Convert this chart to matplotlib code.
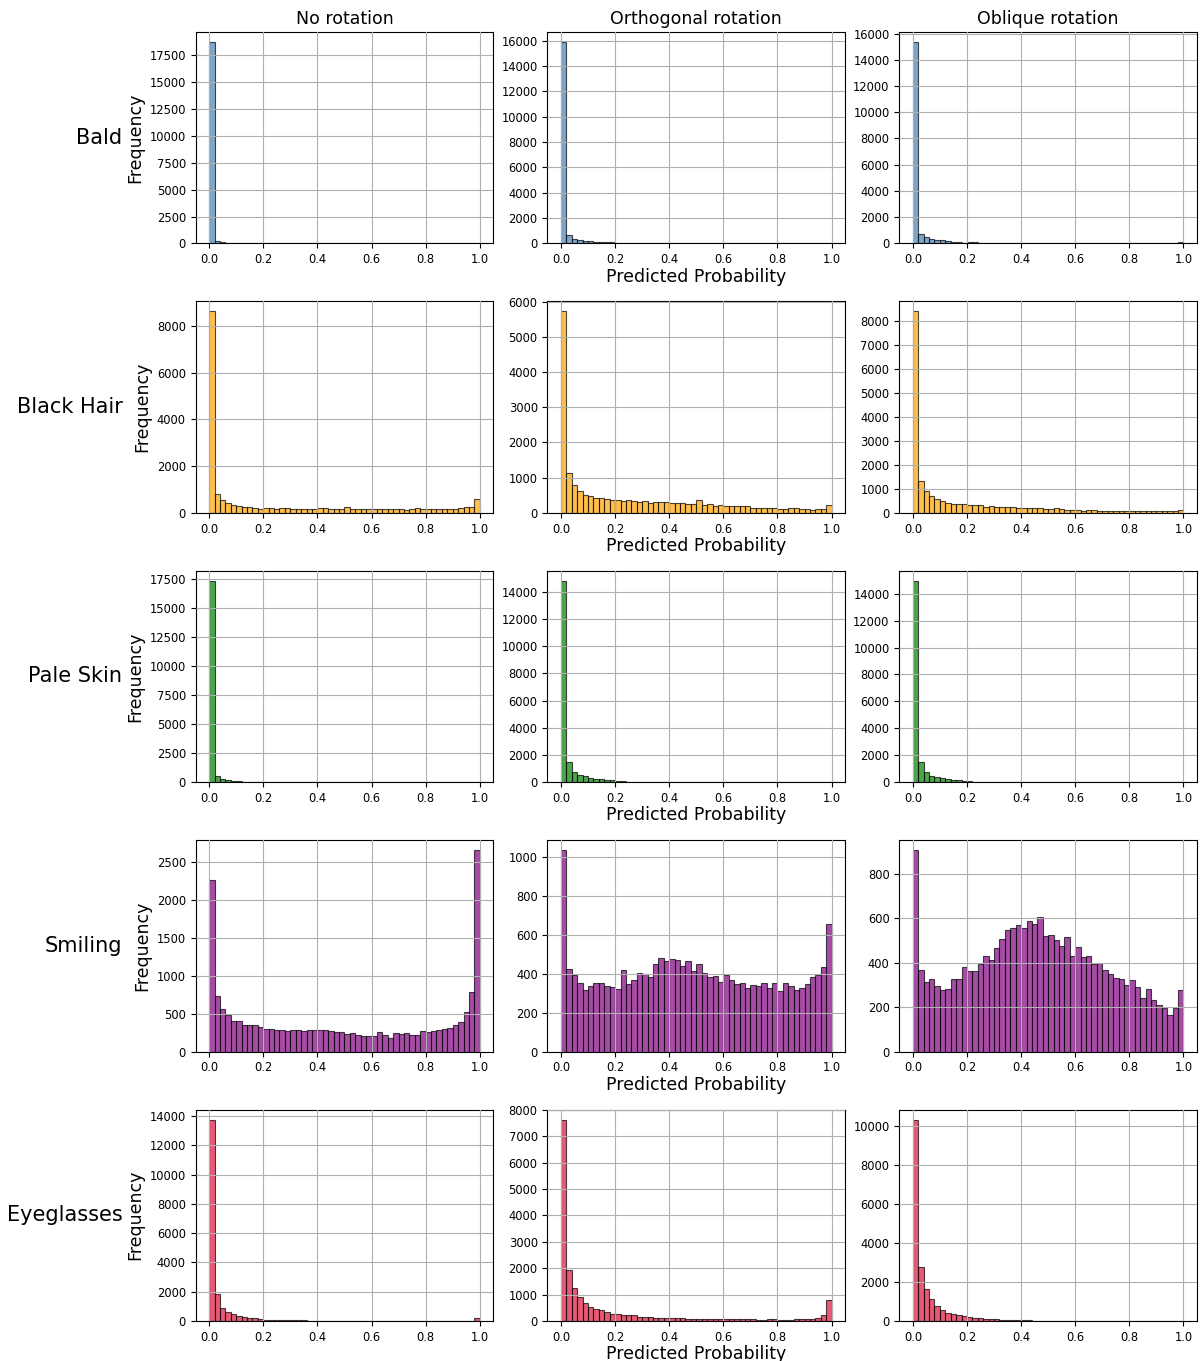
import matplotlib
matplotlib.use("Agg")
import matplotlib.pyplot as plt
from matplotlib.ticker import MultipleLocator
import numpy as np

# 50 bins over [0, 1], counts
bin_edges = np.linspace(0.0, 1.0, 51)

attributes = ["Bald", "Black Hair", "Pale Skin", "Smiling", "Eyeglasses"]
methods = ["No rotation", "Orthogonal rotation", "Oblique rotation"]
colors = ["steelblue", "orange", "green", "purple", "crimson"]

# y tick spacing used in each panel (row = attribute, col = method)
ytick_steps = [
    [2500, 2000, 2000],
    [2000, 1000, 1000],
    [2500, 2000, 2000],
    [500, 200, 200],
    [2000, 1000, 2000],
]

bald_none = [18700, 200, 100, 50, 40, 30, 30, 30, 30, 20, 20, 0, 0, 0, 0, 0, 0, 0, 0, 0,
             0, 0, 0, 0, 0, 0, 0, 0, 0, 0, 0, 0, 0, 0, 0, 0, 0, 0, 0, 0,
             0, 0, 0, 0, 0, 0, 0, 0, 0, 0]
bald_orth = [15900, 680, 380, 270, 190, 170, 130, 110, 90, 80, 60, 40, 20, 20, 20, 15, 15, 15, 15, 10,
             10, 10, 10, 10, 10, 10, 10, 10, 10, 10, 10, 10, 10, 10, 10, 5, 5, 10, 5, 5,
             10, 5, 5, 5, 5, 5, 5, 5, 5, 10]
bald_obl = [15350, 700, 480, 310, 250, 230, 170, 120, 100, 50, 90, 80, 40, 40, 70, 30, 20, 20, 20, 20,
            20, 20, 15, 15, 15, 15, 10, 10, 10, 10, 10, 10, 10, 10, 10, 10, 10, 10, 10, 10,
            10, 5, 10, 5, 5, 5, 5, 10, 10, 80]

hair_none = [8630, 790, 540, 420, 340, 290, 270, 260, 200, 170, 200, 200, 170, 200, 200, 170, 160, 160, 160, 160,
             200, 200, 170, 170, 170, 270, 170, 160, 160, 160, 160, 160, 160, 160, 160, 160, 130, 160, 190, 160,
             160, 160, 160, 180, 180, 180, 190, 230, 230, 590]
hair_orth = [5720, 1130, 800, 610, 510, 480, 430, 420, 380, 360, 350, 340, 360, 340, 320, 340, 290, 310, 310, 310,
             290, 280, 280, 260, 240, 370, 210, 250, 200, 230, 200, 180, 200, 180, 180, 150, 150, 150, 150, 130,
             110, 110, 140, 140, 110, 110, 90, 110, 110, 230]
hair_obl = [8400, 1320, 890, 720, 590, 500, 430, 370, 360, 360, 330, 320, 310, 260, 280, 260, 250, 230, 240, 200,
            200, 190, 190, 190, 180, 160, 190, 140, 110, 100, 100, 90, 120, 100, 80, 80, 90, 80, 60, 60,
            60, 70, 60, 80, 60, 60, 60, 60, 60, 130]

pale_none = [17350, 560, 300, 200, 120, 80, 60, 50, 50, 40, 30, 0, 40, 0, 0, 0, 0, 0, 0, 0,
             0, 0, 0, 0, 0, 0, 0, 0, 0, 0, 0, 0, 0, 0, 0, 0, 0, 0, 0, 0,
             0, 0, 0, 0, 0, 0, 0, 0, 0, 60]
pale_orth = [14800, 1450, 780, 560, 420, 340, 260, 200, 160, 130, 80, 60, 50, 40, 40, 40, 40, 30, 0, 0,
             0, 0, 0, 0, 0, 0, 0, 0, 0, 0, 0, 0, 0, 0, 0, 0, 0, 0, 0, 0,
             0, 0, 0, 0, 0, 0, 0, 0, 0, 0]
pale_obl = [14950, 1520, 780, 480, 360, 300, 230, 170, 130, 100, 70, 50, 40, 40, 30, 30, 0, 20, 0, 0,
            0, 0, 0, 0, 0, 0, 0, 0, 0, 0, 0, 0, 0, 0, 0, 0, 0, 0, 0, 0,
            0, 0, 0, 0, 0, 0, 0, 0, 0, 0]

smile_none = [2270, 730, 560, 490, 410, 405, 355, 345, 345, 330, 295, 300, 280, 290, 275, 290, 290, 275, 280, 280,
              290, 285, 270, 265, 260, 235, 240, 215, 210, 200, 200, 255, 225, 185, 240, 230, 240, 220, 220, 270,
              265, 275, 290, 305, 315, 355, 395, 520, 785, 2660]
smile_orth = [1035, 425, 395, 355, 315, 335, 355, 350, 335, 330, 320, 420, 345, 370, 405, 400, 385, 450, 480, 465,
              475, 470, 440, 465, 415, 450, 405, 385, 390, 360, 395, 370, 345, 355, 325, 340, 335, 350, 325, 355,
              310, 355, 335, 315, 325, 345, 385, 395, 435, 655]
smile_obl = [905, 365, 315, 325, 295, 275, 280, 325, 325, 380, 360, 360, 395, 430, 410, 465, 505, 545, 555, 570,
             555, 585, 575, 605, 520, 525, 500, 475, 515, 430, 470, 425, 430, 395, 400, 365, 350, 330, 325, 300,
             320, 290, 240, 280, 230, 210, 195, 165, 195, 275]

glass_none = [13750, 1830, 900, 580, 460, 330, 270, 220, 190, 120, 90, 80, 80, 70, 60, 60, 40, 40, 30, 30,
              30, 30, 30, 30, 30, 20, 20, 20, 20, 20, 15, 10, 10, 10, 15, 10, 10, 10, 5, 15,
              5, 5, 5, 10, 5, 5, 10, 10, 10, 220]
glass_orth = [7630, 1920, 1250, 890, 680, 530, 450, 410, 350, 280, 250, 210, 210, 210, 140, 140, 160, 130, 130, 100,
              100, 120, 100, 70, 90, 80, 90, 70, 70, 70, 70, 70, 60, 60, 60, 60, 40, 50, 60, 60,
              50, 50, 50, 60, 80, 80, 90, 130, 220, 800]
glass_obl = [10350, 2770, 1650, 1130, 760, 560, 420, 360, 320, 240, 200, 170, 150, 100, 80, 90, 70, 50, 40, 30,
             30, 30, 20, 20, 20, 20, 15, 15, 15, 10, 15, 10, 5, 5, 5, 10, 5, 0, 0, 0,
             0, 0, 0, 0, 0, 0, 0, 0, 0, 5]

counts = [
    [bald_none, bald_orth, bald_obl],
    [hair_none, hair_orth, hair_obl],
    [pale_none, pale_orth, pale_obl],
    [smile_none, smile_orth, smile_obl],
    [glass_none, glass_orth, glass_obl],
]


def main():
    fig, axes = plt.subplots(5, 3, figsize=(12, 13.61), dpi=100)
    fig.subplots_adjust(left=0.163, right=0.9975, top=0.9765, bottom=0.0294,
                        wspace=0.182, hspace=0.274)
    centers = 0.5 * (bin_edges[1:] + bin_edges[:-1])

    for i, attr in enumerate(attributes):
        for j, method in enumerate(methods):
            ax = axes[i, j]
            ax.hist(centers, bins=bin_edges, weights=counts[i][j],
                    color=colors[i], alpha=0.7, edgecolor='black', linewidth=0.8)
            ax.yaxis.set_major_locator(MultipleLocator(ytick_steps[i][j]))
            ax.grid(True, color='#b0b0b0', linewidth=0.8)
            ax.set_axisbelow(False)
            ax.tick_params(labelsize=8.3)
            if i == 0:
                ax.set_title(method, fontsize=12.5)
            if j == 0:
                ax.set_ylabel("Frequency", fontsize=12.5)
            if j == 1:
                ax.set_xlabel("Predicted Probability", fontsize=12.5, labelpad=1)

        # row label to the left of the first column
        pos = axes[i, 0].get_position()
        fig.text(0.102, (pos.y0 + pos.y1) / 2, attr, ha='right', va='center', fontsize=15)

    plt.savefig("out.png", dpi=100)
    plt.close()


if __name__ == '__main__':
    main()
